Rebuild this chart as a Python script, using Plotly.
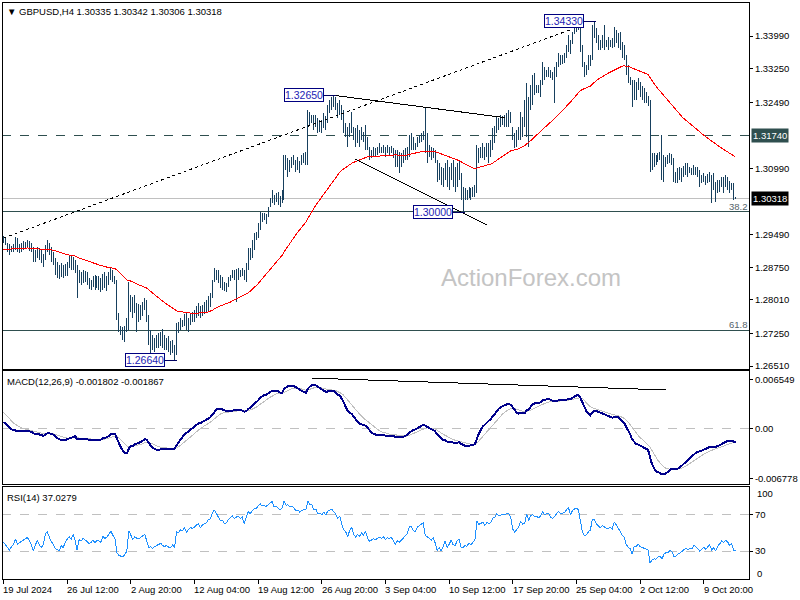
import plotly.graph_objects as go

# ---------------- data ----------------
high_prices = [
    1.2946,1.2941,1.2930,1.2928,1.2923,1.2928,1.2944,1.2941,1.2928,1.2930,1.2934,1.2932,1.2937,1.2934,1.2930,1.2921,
    1.2914,1.2921,1.2919,1.2914,1.2905,1.2925,1.2937,1.2930,1.2921,1.2909,1.2896,1.2887,1.2880,1.2885,1.2880,1.2882,
    1.2887,1.2900,1.2900,1.2898,1.2891,1.2880,1.2869,1.2864,1.2869,1.2867,1.2864,1.2851,1.2846,1.2855,1.2858,1.2855,
    1.2855,1.2851,1.2860,1.2864,1.2855,1.2864,1.2873,1.2869,1.2855,1.2846,1.2772,1.2742,1.2740,1.2742,1.2760,1.2842,
    1.2812,1.2808,1.2812,1.2794,1.2792,1.2790,1.2796,1.2805,1.2801,1.2767,1.2733,1.2722,1.2715,1.2722,1.2726,1.2728,
    1.2735,1.2722,1.2715,1.2719,1.2708,1.2710,1.2699,1.2749,1.2751,1.2760,1.2756,1.2769,1.2772,1.2760,1.2769,1.2774,
    1.2778,1.2787,1.2794,1.2787,1.2790,1.2796,1.2801,1.2810,1.2817,1.2846,1.2873,1.2869,1.2869,1.2858,1.2853,1.2842,
    1.2839,1.2853,1.2858,1.2869,1.2869,1.2871,1.2873,1.2869,1.2873,1.2869,1.2885,1.2919,1.2919,1.2937,1.2953,1.2955,
    1.2975,1.3000,1.2998,1.2998,1.2996,1.3012,1.3032,1.3050,1.3039,1.3043,1.3046,1.3037,1.3050,1.3129,1.3129,1.3123,
    1.3118,1.3125,1.3129,1.3118,1.3125,1.3116,1.3129,1.3134,1.3136,1.3231,1.3227,1.3220,1.3220,1.3220,1.3213,1.3209,
    1.3209,1.3225,1.3218,1.3243,1.3254,1.3261,1.3265,1.3261,1.3247,1.3254,1.3243,1.3231,1.3202,1.3193,1.3202,1.3227,
    1.3193,1.3191,1.3197,1.3186,1.3193,1.3182,1.3197,1.3170,1.3148,1.3141,1.3148,1.3145,1.3148,1.3157,1.3148,1.3152,
    1.3148,1.3152,1.3148,1.3150,1.3145,1.3141,1.3141,1.3136,1.3134,1.3141,1.3145,1.3148,1.3175,1.3179,1.3170,1.3157,
    1.3170,1.3175,1.3179,1.3184,1.3238,1.3179,1.3152,1.3148,1.3145,1.3141,1.3118,1.3111,1.3102,1.3100,1.3111,1.3118,
    1.3102,1.3111,1.3118,1.3102,1.3111,1.3118,1.3089,1.3057,1.3055,1.3050,1.3057,1.3055,1.3057,1.3061,1.3152,1.3145,
    1.3148,1.3157,1.3148,1.3157,1.3157,1.3163,1.3191,1.3195,1.3215,1.3213,1.3220,1.3218,1.3220,1.3225,1.3231,1.3227,
    1.3193,1.3179,1.3186,1.3193,1.3227,1.3215,1.3254,1.3293,1.3261,1.3288,1.3311,1.3315,1.3288,1.3288,1.3299,1.3340,
    1.3329,1.3322,1.3329,1.3322,1.3317,1.3329,1.3340,1.3361,1.3356,1.3356,1.3361,1.3379,1.3401,1.3390,1.3408,1.3424,
    1.3427,1.3426,1.3424,1.3379,1.3340,1.3333,1.3356,1.3356,1.3424,1.3433,1.3417,1.3401,1.3390,1.3401,1.3424,1.3390,
    1.3397,1.3390,1.3395,1.3419,1.3413,1.3406,1.3408,1.3385,1.3379,1.3356,1.3333,1.3306,1.3299,1.3299,1.3295,1.3304,
    1.3295,1.3286,1.3281,1.3272,1.3263,1.3254,1.3134,1.3134,1.3129,1.3134,1.3136,1.3175,1.3129,1.3125,1.3129,1.3134,
    1.3132,1.3123,1.3091,1.3100,1.3102,1.3100,1.3104,1.3111,1.3111,1.3102,1.3100,1.3107,1.3102,1.3102,1.3095,1.3084,
    1.3089,1.3082,1.3086,1.3091,1.3084,1.3089,1.3068,1.3073,1.3073,1.3080,1.3080,1.3084,1.3080,1.3070,1.3066,1.3066,1.30342,
]
low_prices = [
    1.2930,1.2925,1.2909,1.2903,1.2909,1.2909,1.2914,1.2909,1.2907,1.2909,1.2914,1.2916,1.2919,1.2912,1.2909,1.2887,
    1.2887,1.2896,1.2891,1.2885,1.2876,1.2891,1.2909,1.2903,1.2887,1.2880,1.2858,1.2851,1.2849,1.2853,1.2851,1.2855,
    1.2855,1.2873,1.2869,1.2869,1.2862,1.2805,1.2839,1.2835,1.2839,1.2842,1.2835,1.2826,1.2824,1.2830,1.2824,1.2828,
    1.2824,1.2819,1.2824,1.2828,1.2821,1.2835,1.2846,1.2842,1.2837,1.2756,1.2728,1.2722,1.2710,1.2706,1.2728,1.2733,
    1.2774,1.2760,1.2772,1.2728,1.2751,1.2756,1.2765,1.2778,1.2751,1.2699,1.2676,1.2688,1.2683,1.2692,1.2692,1.2697,
    1.2692,1.2688,1.2688,1.2683,1.2676,1.2681,1.2664,1.2676,1.2726,1.2733,1.2740,1.2742,1.2733,1.2728,1.2744,1.2751,
    1.2751,1.2760,1.2765,1.2760,1.2765,1.2769,1.2774,1.2774,1.2785,1.2805,1.2842,1.2846,1.2839,1.2828,1.2824,1.2821,
    1.2819,1.2830,1.2844,1.2851,1.2846,1.2796,1.2846,1.2853,1.2855,1.2846,1.2842,1.2869,1.2891,1.2896,1.2914,1.2937,
    1.2941,1.2959,1.2978,1.2982,1.2973,1.2989,1.3012,1.3021,1.3016,1.3023,1.3016,1.3012,1.3021,1.3027,1.3095,1.3080,
    1.3091,1.3100,1.3107,1.3091,1.3095,1.3089,1.3107,1.3111,1.3107,1.3107,1.3197,1.3202,1.3186,1.3193,1.3179,1.3182,
    1.3179,1.3191,1.3186,1.3202,1.3225,1.3231,1.3238,1.3231,1.3213,1.3220,1.3209,1.3179,1.3170,1.3148,1.3170,1.3179,
    1.3163,1.3148,1.3157,1.3148,1.3163,1.3159,1.3141,1.3141,1.3118,1.3123,1.3125,1.3125,1.3129,1.3134,1.3134,1.3134,
    1.3125,1.3134,1.3129,1.3134,1.3123,1.3102,1.3102,1.3089,1.3102,1.3111,1.3118,1.3118,1.3125,1.3141,1.3141,1.3141,
    1.3148,1.3157,1.3159,1.3163,1.3134,1.3111,1.3125,1.3118,1.3123,1.3111,1.3068,1.3073,1.3061,1.3057,1.3073,1.3057,
    1.3050,1.3073,1.3057,1.3046,1.3057,1.3073,1.3027,1.3000,1.3027,1.3027,1.3032,1.3027,1.3034,1.3034,1.3043,1.3111,
    1.3123,1.3123,1.3118,1.3125,1.3111,1.3125,1.3141,1.3157,1.3179,1.3186,1.3193,1.3197,1.3193,1.3193,1.3193,1.3202,
    1.3163,1.3145,1.3148,1.3163,1.3163,1.3170,1.3193,1.3170,1.3148,1.3231,1.3243,1.3265,1.3270,1.3270,1.3261,1.3288,
    1.3299,1.3306,1.3306,1.3304,1.3299,1.3247,1.3306,1.3329,1.3333,1.3336,1.3338,1.3349,1.3363,1.3358,1.3381,1.3404,
    1.3408,1.3413,1.3363,1.3329,1.3306,1.3311,1.3322,1.3331,1.3345,1.3395,1.3383,1.3367,1.3367,1.3372,1.3367,1.3374,
    1.3367,1.3374,1.3372,1.3374,1.3383,1.3372,1.3367,1.3349,1.3345,1.3311,1.3293,1.3288,1.3238,1.3254,1.3254,1.3277,
    1.3261,1.3254,1.3247,1.3247,1.3240,1.3091,1.3095,1.3102,1.3107,1.3113,1.3118,1.3073,1.3068,1.3102,1.3109,1.3111,
    1.3107,1.3068,1.3066,1.3066,1.3073,1.3068,1.3080,1.3084,1.3080,1.3089,1.3084,1.3084,1.3084,1.3080,1.3057,1.3066,
    1.3068,1.3061,1.3066,1.3068,1.3021,1.3050,1.3023,1.3043,1.3046,1.3057,1.3043,1.3057,1.3050,1.3043,1.3050,1.3027,1.30306,
]
close_prices = [
    1.2937,1.2930,1.2919,1.2914,1.2919,1.2923,1.2932,1.2919,1.2921,1.2923,1.2925,1.2928,1.2930,1.2923,1.2914,1.2896,
    1.2903,1.2914,1.2900,1.2891,1.2896,1.2919,1.2925,1.2909,1.2896,1.2887,1.2869,1.2864,1.2858,1.2869,1.2860,1.2873,
    1.2880,1.2887,1.2878,1.2891,1.2873,1.2824,1.2858,1.2851,1.2862,1.2855,1.2846,1.2835,1.2839,1.2846,1.2833,1.2842,
    1.2837,1.2833,1.2851,1.2842,1.2846,1.2855,1.2864,1.2851,1.2842,1.2765,1.2738,1.2733,1.2726,1.2733,1.2742,1.2828,
    1.2801,1.2774,1.2790,1.2778,1.2774,1.2783,1.2790,1.2796,1.2760,1.2710,1.2715,1.2699,1.2706,1.2710,1.2715,1.2719,
    1.2706,1.2699,1.2703,1.2692,1.2688,1.2697,1.2683,1.2742,1.2738,1.2751,1.2749,1.2760,1.2744,1.2756,1.2765,1.2760,
    1.2769,1.2778,1.2783,1.2769,1.2783,1.2787,1.2792,1.2805,1.2810,1.2839,1.2864,1.2855,1.2846,1.2835,1.2837,1.2828,
    1.2830,1.2846,1.2853,1.2864,1.2858,1.2864,1.2869,1.2864,1.2869,1.2855,1.2880,1.2914,1.2909,1.2930,1.2946,1.2946,
    1.2969,1.2993,1.2987,1.2993,1.2991,1.3007,1.3027,1.3039,1.3027,1.3037,1.3032,1.3027,1.3043,1.3118,1.3107,1.3113,
    1.3107,1.3118,1.3113,1.3104,1.3113,1.3107,1.3123,1.3125,1.3127,1.3220,1.3209,1.3213,1.3197,1.3206,1.3191,1.3197,
    1.3191,1.3213,1.3204,1.3236,1.3245,1.3254,1.3247,1.3240,1.3227,1.3243,1.3218,1.3193,1.3186,1.3163,1.3191,1.3209,
    1.3175,1.3159,1.3172,1.3163,1.3179,1.3168,1.3186,1.3152,1.3129,1.3134,1.3141,1.3136,1.3141,1.3145,1.3141,1.3145,
    1.3136,1.3141,1.3138,1.3141,1.3129,1.3113,1.3123,1.3118,1.3123,1.3129,1.3136,1.3141,1.3163,1.3163,1.3152,1.3150,
    1.3163,1.3168,1.3172,1.3177,1.3145,1.3141,1.3136,1.3129,1.3136,1.3118,1.3084,1.3091,1.3073,1.3084,1.3100,1.3068,
    1.3077,1.3091,1.3068,1.3061,1.3077,1.3084,1.3039,1.3037,1.3043,1.3039,1.3050,1.3039,1.3048,1.3055,1.3141,1.3129,
    1.3136,1.3141,1.3129,1.3148,1.3141,1.3152,1.3179,1.3186,1.3209,1.3202,1.3209,1.3211,1.3213,1.3218,1.3220,1.3209,
    1.3175,1.3163,1.3175,1.3186,1.3213,1.3204,1.3209,1.3265,1.3243,1.3277,1.3288,1.3281,1.3281,1.3277,1.3288,1.3322,
    1.3313,1.3315,1.3322,1.3311,1.3308,1.3317,1.3333,1.3352,1.3345,1.3349,1.3354,1.3372,1.3390,1.3372,1.3401,1.3417,
    1.3422,1.3419,1.3379,1.3340,1.3322,1.3327,1.3340,1.3349,1.3413,1.3413,1.3395,1.3385,1.3379,1.3390,1.3385,1.3381,
    1.3379,1.3383,1.3379,1.3408,1.3401,1.3390,1.3379,1.3363,1.3356,1.3322,1.3304,1.3295,1.3254,1.3281,1.3277,1.3288,
    1.3272,1.3265,1.3261,1.3254,1.3249,1.3107,1.3118,1.3123,1.3118,1.3127,1.3129,1.3095,1.3113,1.3118,1.3118,1.3125,
    1.3118,1.3077,1.3077,1.3084,1.3086,1.3091,1.3095,1.3100,1.3091,1.3095,1.3091,1.3100,1.3095,1.3084,1.3073,1.3077,
    1.3082,1.3073,1.3077,1.3082,1.3061,1.3066,1.3050,1.3061,1.3066,1.3073,1.3068,1.3073,1.3068,1.3055,1.3059,1.30335,1.30318,
]
first_open = 1.2942

time_tick_bars = [0, 32, 64, 96, 128, 160, 192, 224, 256, 288, 320, 352]
time_tick_labels = ["19 Jul 2024", "26 Jul 12:00", "2 Aug 20:00", "12 Aug 04:00",
                    "19 Aug 12:00", "26 Aug 20:00", "3 Sep 04:00", "10 Sep 12:00",
                    "17 Sep 20:00", "25 Sep 04:00", "2 Oct 12:00", "9 Oct 20:00"]

price_tick_values = [1.3399, 1.3325, 1.3249, 1.3099, 1.2949, 1.2875, 1.2801, 1.2725, 1.2651]
macd_tick_values = [0.006549, 0.0, -0.006778]
macd_tick_labels = ["0.006549", "0.00", "-0.006778"]
rsi_levels = [70, 30]

ema_period = 55
ema_seed = 1.2915
macd_fast_seed = 1.2957
macd_slow_seed = 1.2946
macd_signal_seed = 0.0025
rsi_gain_seed = 0.00030
rsi_loss_seed = 0.00042

# annotations drawn by the analyst
resistance_level = 1.3174
current_price = 1.30318
fib_levels = [1.30008, 1.27322]
fib_texts = ["38.2", "61.8"]
mark_bars = [86, 166, 231, 297]
mark_prices = [1.2664, 1.3265, 1.3000, 1.3433]
mark_texts = ["1.26640", "1.32650", "1.30000", "1.34330"]
trend_start_bars = [0, 167, 177]
trend_end_bars = [286, 252, 243]
trend_start_prices = [1.2941, 1.3264, 1.3120]
trend_end_prices = [1.3415, 1.3214, 1.2971]
trend_dash = ["dot", "solid", "solid"]
macd_trend_bars = [155, 333]
macd_trend_values = [0.0068, 0.0052]

header_text = "▼ GBPUSD,H4 1.30335 1.30342 1.30306 1.30318"
macd_text = "MACD(12,26,9) -0.001802 -0.001867"
rsi_text = "RSI(14) 37.0279"

# ---------------- computations ----------------
n = min(len(high_prices), len(low_prices), len(close_prices))
H, L, C = high_prices[:n], low_prices[:n], close_prices[:n]
xs = list(range(n))
opens = [first_open] + C[:-1]

ema = []
e = ema_seed
k = 2.0 / (ema_period + 1)
for c in C:
    e = e + (c - e) * k
    ema.append(e)

macd, signal = [], []
f, s, sg = macd_fast_seed, macd_slow_seed, macd_signal_seed
for c in C:
    f = f + (c - f) * 2.0 / 13
    s = s + (c - s) * 2.0 / 27
    m = f - s
    sg = sg + (m - sg) * 0.2
    macd.append(m)
    signal.append(sg)

rsi = []
ag, al = rsi_gain_seed, rsi_loss_seed
prev = first_open
for c in C:
    ch = c - prev
    ag = (ag * 13 + max(ch, 0)) / 14
    al = (al * 13 + max(-ch, 0)) / 14
    rsi.append(100 - 100 / (1 + ag / al) if al > 0 else 100)
    prev = c

# ---------------- figure ----------------
FONT = "Liberation Sans, Arial, sans-serif"
BAR = "#17405e"
SLATE = "#2f4f4f"

price_dom = [0.36395, 1.0]
macd_dom = [0.16464, 0.36049]
rsi_dom = [0.0, 0.15945]

fig = go.Figure()
fig.add_trace(go.Ohlc(x=xs, open=opens, high=H, low=L, close=C,
                      line=dict(width=1),
                      increasing=dict(line=dict(color=BAR, width=1)),
                      decreasing=dict(line=dict(color=BAR, width=1)),
                      tickwidth=0, xaxis="x", yaxis="y", hoverinfo="skip"))
fig.add_trace(go.Scatter(x=xs, y=ema, mode="lines", line=dict(color="#ff0000", width=1),
                         xaxis="x", yaxis="y", hoverinfo="skip"))
fig.add_trace(go.Scatter(x=xs, y=signal, mode="lines", line=dict(color="#c0c0c0", width=1),
                         xaxis="x", yaxis="y2", hoverinfo="skip"))
fig.add_trace(go.Scatter(x=xs, y=macd, mode="lines", line=dict(color="#00008b", width=2),
                         xaxis="x", yaxis="y2", hoverinfo="skip"))
fig.add_trace(go.Scatter(x=xs, y=rsi, mode="lines", line=dict(color="#1e90ff", width=1),
                         xaxis="x", yaxis="y3", hoverinfo="skip"))

shapes = []
for dom in (price_dom, macd_dom, rsi_dom):
    shapes.append(dict(type="rect", xref="paper", yref="paper", x0=0, x1=1, y0=dom[0], y1=dom[1],
                       line=dict(color="black", width=1), layer="above"))
shapes.append(dict(type="line", xref="paper", yref="y", x0=0, x1=1, y0=resistance_level, y1=resistance_level,
                   line=dict(color=SLATE, width=1, dash="dash"), layer="below"))
shapes.append(dict(type="line", xref="paper", yref="y", x0=0, x1=1, y0=current_price, y1=current_price,
                   line=dict(color="#c0c0c0", width=1), layer="below"))
for lv in fib_levels:
    shapes.append(dict(type="line", xref="paper", yref="y", x0=0, x1=1, y0=lv, y1=lv,
                       line=dict(color=SLATE, width=1), layer="below"))
for b0, b1, p0, p1, d in zip(trend_start_bars, trend_end_bars, trend_start_prices, trend_end_prices, trend_dash):
    shapes.append(dict(type="line", xref="x", yref="y", x0=b0, x1=b1, y0=p0, y1=p1,
                       line=dict(color="black", width=1, dash=d)))
shapes.append(dict(type="line", xref="x", yref="y2", x0=macd_trend_bars[0], x1=macd_trend_bars[1],
                   y0=macd_trend_values[0], y1=macd_trend_values[1], line=dict(color="black", width=1)))
shapes.append(dict(type="line", xref="paper", yref="y2", x0=0, x1=1, y0=0, y1=0,
                   line=dict(color="#c0c0c0", width=1, dash="dash"), layer="below"))
for lv in rsi_levels:
    shapes.append(dict(type="line", xref="paper", yref="y3", x0=0, x1=1, y0=lv, y1=lv,
                       line=dict(color="#c0c0c0", width=1, dash="dash"), layer="below"))
for b, p in zip(mark_bars, mark_prices):
    shapes.append(dict(type="line", xref="x", yref="y", x0=b - 5, x1=b + 1, y0=p, y1=p,
                       line=dict(color="#000060", width=1)))

ann = []
small = dict(family=FONT, size=9.5, color="black")
ann.append(dict(text=header_text, xref="paper", yref="paper", x=0.004, y=1, xanchor="left", yanchor="top",
                yshift=-2, showarrow=False, font=small))
ann.append(dict(text=macd_text, xref="paper", yref="y2 domain", x=0.004, y=1, xanchor="left", yanchor="top",
                yshift=-3, showarrow=False, font=small))
ann.append(dict(text=rsi_text, xref="paper", yref="y3 domain", x=0.004, y=1, xanchor="left", yanchor="top",
                yshift=-3, showarrow=False, font=small))
ann.append(dict(text="ActionForex.com", xref="paper", yref="paper", x=0.7084, y=0.5217,
                xanchor="center", yanchor="middle", showarrow=False,
                font=dict(family=FONT, size=24, color="#c4c4c4")))
for b, p, t in zip(mark_bars, mark_prices, mark_texts):
    ann.append(dict(text=t, xref="x", yref="y", x=b, y=p, xanchor="right", yanchor="middle", xshift=-10,
                    showarrow=False, bgcolor="white", bordercolor="#000080", borderwidth=1, borderpad=0,
                    font=dict(family=FONT, size=10.5, color="#2323b4")))
for lv, t in zip(fib_levels, fib_texts):
    ann.append(dict(text=t, xref="paper", yref="y", x=1, y=lv, xanchor="right", yanchor="bottom",
                    xshift=1, yshift=-2, showarrow=False,
                    font=dict(family=FONT, size=9.5, color="#55636b")))
ann.append(dict(text=f"{resistance_level:.5f}", xref="paper", yref="y", x=1, y=resistance_level,
                xanchor="left", yanchor="middle", xshift=2, showarrow=False, bgcolor=SLATE, borderpad=1,
                font=dict(family=FONT, size=9.5, color="white")))
ann.append(dict(text=f"{current_price:.5f}", xref="paper", yref="y", x=1, y=current_price,
                xanchor="left", yanchor="middle", xshift=2, showarrow=False, bgcolor="black", borderpad=1,
                font=dict(family=FONT, size=9.5, color="white")))
ann.append(dict(text="100", xref="paper", yref="y3", x=1, y=100, xanchor="left", yanchor="middle",
                xshift=6, yshift=-6, showarrow=False, font=small))
ann.append(dict(text="0", xref="paper", yref="y3", x=1, y=0, xanchor="left", yanchor="middle",
                xshift=6, yshift=5, showarrow=False, font=small))
for b, t in zip(time_tick_bars, time_tick_labels):
    ann.append(dict(text=t, xref="x", yref="paper", x=b, y=0, xanchor="left", yanchor="top",
                    xshift=-2, yshift=-3, showarrow=False, font=small))

axis_common = dict(showgrid=False, zeroline=False, side="right", ticks="outside", ticklen=3,
                   tickcolor="black", tickfont=dict(family=FONT, size=9.5, color="black"), anchor="x")

fig.update_layout(
    width=800, height=600,
    margin=dict(l=2, r=47, t=2, b=21),
    paper_bgcolor="white", plot_bgcolor="white",
    showlegend=False,
    xaxis=dict(domain=[0, 1], range=[-0.75, 374.75], anchor="y3", showgrid=False, zeroline=False,
               tickvals=time_tick_bars, showticklabels=False, ticks="outside", ticklen=4,
               tickcolor="black", rangeslider=dict(visible=False)),
    yaxis=dict(domain=price_dom, range=[1.26444, 1.34761], tickvals=price_tick_values,
               ticktext=[f"{v:.5f}" for v in price_tick_values], **axis_common),
    yaxis2=dict(domain=macd_dom, range=[-0.007551, 0.007767], tickvals=macd_tick_values,
                ticktext=macd_tick_labels, **axis_common),
    yaxis3=dict(domain=rsi_dom, range=[-1.1, 101.1], tickvals=rsi_levels,
                ticktext=[str(v) for v in rsi_levels], **axis_common),
    shapes=shapes,
    annotations=ann,
)

crisp_js = (
    "document.body.style.margin='0px';document.body.style.overflow='hidden';"
    "document.querySelectorAll('.ohlclayer path, .scatterlayer path, .shapelayer path')"
    ".forEach(function(p){p.style.shapeRendering='crispEdges';});"
)
fig.write_html("out.html", config={"displayModeBar": False}, post_script=crisp_js)
